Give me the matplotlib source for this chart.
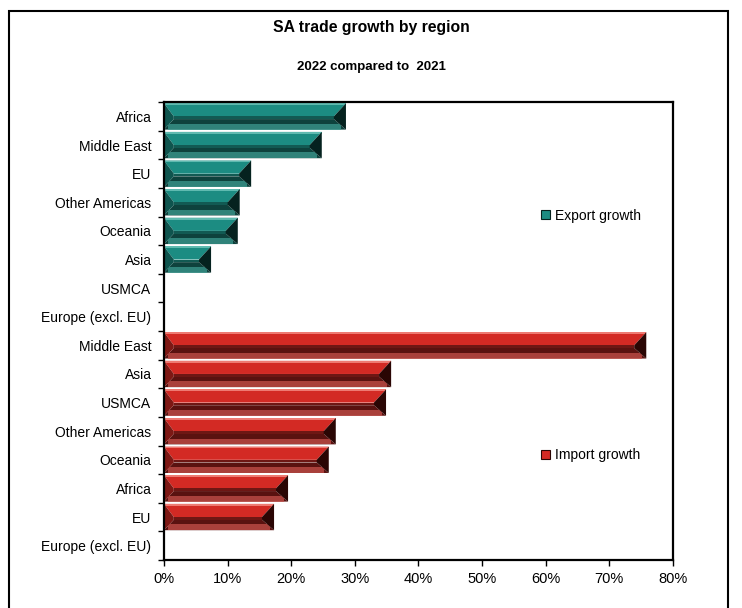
import numpy as np
import matplotlib
matplotlib.use("Agg")
import matplotlib.pyplot as plt
from matplotlib.patches import Polygon, Rectangle
from matplotlib.ticker import FuncFormatter

plt.rcParams['font.family'] = ['Liberation Sans', 'DejaVu Sans']

# data (growth as fractions)
export_regions = ['Africa', 'Middle East', 'EU', 'Other Americas', 'Oceania', 'Asia',
                  'USMCA', 'Europe (excl. EU)']
export_growth = [0.286, 0.248, 0.137, 0.119, 0.116, 0.074, 0.0, 0.0]
import_regions = ['Middle East', 'Asia', 'USMCA', 'Other Americas', 'Oceania', 'Africa',
                  'EU', 'Europe (excl. EU)']
import_growth = [0.758, 0.357, 0.349, 0.270, 0.259, 0.195, 0.173, 0.0]

export_cols = dict(face='#1c8c82', top='#5fbab0', mid='#125a53', bottom='#0e423d',
                   rim='#3c9a90', left='#0f544e', right='#05221f')
import_cols = dict(face='#d32a24', top='#ee7a72', mid='#6e1714', bottom='#5a1210',
                   rim='#c4504a', left='#7d1814', right='#2a0604')


def bevel_bar(ax, y, val, h, cols):
    # one bar with a bevelled look, sized from its value
    if val <= 0:
        return
    x0, x1 = 0.0, val
    y0, y1 = y - h / 2, y + h / 2          # y0 is the top edge (axis inverted)
    dl = min(0.0155, val / 4)
    dr = min(0.019, val / 3)
    ix0, ix1 = x0 + dl, x1 - dr
    iy0, iy1 = y0 + 0.50 * h, y0 + 0.60 * h
    # upper face
    ax.add_patch(Polygon([(x0, y0), (x1, y0), (ix1, iy0), (ix0, iy0)], closed=True,
                         fc=cols['face'], ec='none'))
    ax.add_patch(Rectangle((x0, y0), x1 - x0, 0.07 * h, fc=cols['top'], ec='none'))
    # lower face, dark band fading to a lighter rim
    ax.add_patch(Polygon([(x0, y1), (x1, y1), (ix1, iy1), (ix0, iy1)], closed=True,
                         fc=cols['bottom'], ec='none'))
    ax.add_patch(Rectangle((ix0, iy0), ix1 - ix0, iy1 - iy0, fc=cols['mid'], ec='none'))
    ax.add_patch(Rectangle((x0 + dl * 0.4, y1 - 0.22 * h), x1 - x0 - dr * 0.7, 0.22 * h,
                           fc=cols['rim'], ec='none', alpha=0.75))
    # end wedges
    ax.add_patch(Polygon([(x0, y0), (ix0, iy0), (ix0, iy1), (x0, y1)], closed=True,
                         fc=cols['left'], ec='none'))
    ax.add_patch(Polygon([(x1, y0), (ix1, iy0), (ix1, iy1), (x1, y1)], closed=True,
                         fc=cols['right'], ec='none'))


labels = export_regions + import_regions
values = export_growth + import_growth
n = len(labels)
ypos = np.arange(n)

fig = plt.figure(figsize=(7.42, 6.08), dpi=100)
ax = fig.add_axes([0.221, 0.079, 0.686, 0.753])

h = 0.92
for i, v in enumerate(values):
    cols = export_cols if i < len(export_growth) else import_cols
    bevel_bar(ax, ypos[i], v, h, cols)

ax.set_xlim(0, 0.8)
ax.set_ylim(n - 0.5, -0.5)

ax.set_xticks(np.arange(0, 0.81, 0.1))
ax.xaxis.set_major_formatter(FuncFormatter(lambda x, p: f'{x * 100:.0f}%'))
ax.set_yticks(np.arange(-0.5, n, 1.0))
ax.set_yticklabels([])
ax.set_yticks(ypos, minor=True)
ax.set_yticklabels(labels, minor=True)
ax.tick_params(axis='y', which='minor', length=0, pad=9, labelsize=10)
ax.tick_params(axis='y', which='major', length=4, width=1, direction='out')
ax.tick_params(axis='x', length=4, width=1, direction='out', labelsize=10.5, pad=5)
for s in ax.spines.values():
    s.set_linewidth(1.6)
    s.set_color('black')

# legends as two separate entries, like the original
exp_h = Rectangle((0, 0), 1, 1, fc=export_cols['face'], ec=export_cols['right'], lw=0.8)
imp_h = Rectangle((0, 0), 1, 1, fc=import_cols['face'], ec=import_cols['right'], lw=0.8)
leg_kw = dict(loc='center left', frameon=False, handlelength=0.6, handleheight=0.6,
              handletextpad=0.4, fontsize=10)
leg1 = ax.legend([exp_h], ['Export growth'], bbox_to_anchor=(0.717, 0.752), **leg_kw)
ax.add_artist(leg1)
ax.legend([imp_h], ['Import growth'], bbox_to_anchor=(0.717, 0.229), **leg_kw)

fig.text(0.50, 0.955, 'SA trade growth by region', ha='center', va='center',
         fontsize=11.3, fontweight='bold')
fig.text(0.50, 0.89, '2022 compared to  2021', ha='center', va='center',
         fontsize=9.5, fontweight='bold')

# outer chart border
fig.patches.append(Rectangle((9 / 742, -0.05), 719 / 742, 1.05 - 11 / 608,
                             transform=fig.transFigure, fill=False, ec='black', lw=1.5))

fig.savefig('out.png', dpi=100, facecolor='white')
